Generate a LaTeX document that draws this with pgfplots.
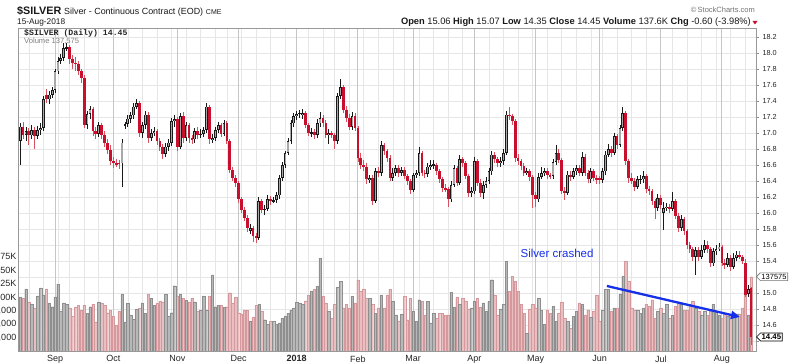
\documentclass[border=0pt]{standalone}
\usepackage{fontspec}
\setmainfont{Liberation Sans}
\newfontfamily\monofont{Liberation Mono}
\usepackage{pgfplots}
\usepackage{pgfplotstable}
\pgfplotsset{compat=1.18}
\usetikzlibrary{arrows.meta,shapes.symbols}

\definecolor{gridc}{HTML}{E6E6E6}
\definecolor{monthc}{HTML}{C6C6C6}
\definecolor{candred}{HTML}{C8102E}
\definecolor{wickred}{HTML}{D9505F}
\definecolor{candin}{HTML}{A8A8A8}
\definecolor{volpink}{HTML}{E9BFC2}
\definecolor{volpinkb}{HTML}{D4989D}
\definecolor{volgray}{HTML}{B8B8B8}
\definecolor{volgrayb}{HTML}{8E8E8E}
\definecolor{annblue}{HTML}{1530E8}

\pgfplotstableread{
d o h l c v
0 16.90 17.12 16.60 17.08 100
1 17.08 17.14 16.92 16.98 98
2 16.98 17.08 16.90 17.02 115
3 17.02 17.06 16.85 16.97 91
4 16.97 17.10 16.93 17.04 87
5 17.04 17.07 16.80 16.96 80
6 16.96 17.09 16.92 17.04 102
7 17.04 17.12 16.98 17.06 117
8 17.06 17.46 17.02 17.42 104
9 17.47 17.55 17.38 17.42 115
10 17.42 17.52 17.36 17.48 89
11 17.48 17.58 17.44 17.54 82
12 17.54 17.80 17.50 17.77 100
13 17.77 17.95 17.74 17.90 124
14 17.90 17.99 17.86 17.94 73
15 17.94 18.12 17.90 18.06 89
16 18.06 18.13 18.02 18.07 87
17 18.07 18.10 17.86 17.92 80
18 17.92 17.97 17.80 17.88 64
19 17.88 17.95 17.78 17.86 81
20 17.86 17.90 17.72 17.77 84
21 17.77 17.80 17.62 17.69 76
22 17.69 17.72 17.06 17.10 85
23 17.10 17.28 17.05 17.24 70
24 17.24 17.34 17.18 17.30 82
25 17.30 17.33 16.96 17.02 87
26 17.02 17.08 16.93 16.99 54
27 16.99 17.14 16.95 17.10 91
28 17.10 17.13 16.92 16.98 89
29 16.98 17.02 16.83 16.88 85
30 16.88 16.92 16.74 16.79 71
31 16.79 16.85 16.60 16.65 75
32 16.65 16.70 16.56 16.62 64
33 16.62 16.68 16.57 16.61 48
34 16.63 16.66 16.55 16.61 73
35 16.62 16.92 16.33 16.88 105
36 17.10 17.14 17.05 17.11 54
37 17.11 17.22 17.08 17.18 88
38 17.18 17.26 17.13 17.22 67
39 17.22 17.38 17.18 17.33 59
40 17.33 17.42 17.30 17.37 77
41 17.37 17.40 16.95 17.00 79
42 17.00 17.14 16.94 17.10 89
43 17.10 17.28 17.05 17.23 70
44 17.23 17.26 16.88 16.94 105
45 16.94 17.05 16.90 17.00 98
46 17.00 17.08 16.96 17.02 85
47 17.02 17.05 16.85 16.90 88
48 16.90 16.94 16.78 16.83 93
49 16.83 16.86 16.68 16.74 91
50 16.74 16.88 16.70 16.83 105
51 16.83 16.92 16.78 16.88 64
52 16.88 17.19 16.84 17.15 71
53 17.15 17.22 17.08 17.17 121
54 17.17 17.20 16.78 16.83 102
55 16.83 17.25 16.80 17.21 105
56 17.21 17.26 16.88 16.94 98
57 16.94 17.14 16.90 17.10 94
58 17.10 17.13 16.88 16.94 91
59 16.94 16.98 16.86 16.92 98
60 16.92 17.06 16.88 17.02 91
61 17.02 17.07 16.93 16.98 73
62 16.98 17.05 16.94 16.99 76
63 16.99 17.08 16.95 17.04 102
64 17.04 17.38 17.00 17.33 76
65 17.33 17.35 16.86 16.92 102
66 16.92 16.99 16.88 16.94 141
67 16.94 17.08 16.90 17.04 82
68 17.04 17.14 17.00 17.10 85
69 17.10 17.13 16.95 16.99 85
70 16.99 17.16 16.96 17.12 81
71 17.12 17.15 16.86 16.90 82
72 16.90 16.92 16.50 16.54 108
73 16.54 16.58 16.40 16.44 89
74 16.44 16.48 16.33 16.38 99
75 16.38 16.40 16.12 16.17 71
76 16.17 16.20 16.00 16.04 69
77 16.04 16.08 15.90 15.94 75
78 15.94 15.97 15.76 15.81 75
79 15.78 15.86 15.74 15.81 56
80 15.81 15.84 15.64 15.71 62
81 15.71 15.75 15.62 15.69 85
82 15.69 16.20 15.66 16.15 86
83 16.15 16.18 16.00 16.04 74
84 16.04 16.10 15.98 16.05 58
85 16.05 16.22 16.02 16.17 49
86 16.17 16.21 16.10 16.15 55
87 16.15 16.20 16.12 16.16 55
88 16.16 16.26 16.12 16.22 49
89 16.22 16.48 16.18 16.44 52
90 16.44 16.64 16.40 16.60 61
91 16.60 16.78 16.56 16.75 64
92 16.75 16.94 16.72 16.90 70
93 16.90 17.16 16.86 17.12 76
94 17.12 17.25 17.08 17.21 80
95 17.21 17.28 17.16 17.24 90
96 17.24 17.29 17.19 17.25 89
97 17.23 17.30 17.18 17.25 86
98 17.25 17.28 17.06 17.10 93
99 17.10 17.13 16.96 17.00 104
100 17.00 17.06 16.95 17.01 110
101 17.01 17.05 16.92 16.98 114
102 16.98 17.17 16.94 17.12 120
103 17.12 17.26 17.08 17.19 172
104 17.19 17.22 17.08 17.13 101
105 17.13 17.16 16.94 16.98 89
106 16.98 17.05 16.86 17.00 73
107 17.00 17.03 16.94 16.98 61
108 16.98 17.00 16.80 16.90 87
109 16.90 17.50 16.86 17.46 118
110 17.46 17.67 17.42 17.57 129
111 17.57 17.60 17.25 17.29 80
112 17.29 17.34 17.14 17.19 86
113 17.19 17.24 17.04 17.08 80
114 17.08 17.26 17.04 17.21 101
115 17.21 17.25 17.02 17.06 89
116 17.06 17.09 16.64 16.69 132
117 16.69 16.75 16.55 16.60 110
118 16.60 16.66 16.52 16.58 115
119 16.58 16.62 16.36 16.42 98
120 16.42 16.48 16.38 16.44 97
121 16.44 16.48 16.10 16.15 86
122 16.15 16.56 16.12 16.52 70
123 16.52 16.58 16.45 16.50 80
124 16.50 16.90 16.46 16.85 104
125 16.85 16.88 16.72 16.77 80
126 16.77 16.80 16.64 16.69 104
127 16.69 16.72 16.40 16.44 114
128 16.44 16.56 16.40 16.50 92
129 16.50 16.60 16.46 16.56 67
130 16.56 16.60 16.45 16.50 55
131 16.50 16.58 16.46 16.54 68
132 16.54 16.57 16.42 16.46 101
133 16.46 16.49 16.35 16.40 58
134 16.40 16.43 16.24 16.29 98
135 16.29 16.50 16.26 16.47 73
136 16.47 16.54 16.44 16.50 55
137 16.50 16.82 16.46 16.75 95
138 16.75 16.78 16.46 16.50 92
139 16.50 16.54 16.44 16.49 67
140 16.49 16.62 16.45 16.58 92
141 16.58 16.66 16.54 16.60 52
142 16.60 16.66 16.55 16.60 70
143 16.60 16.63 16.48 16.52 61
144 16.52 16.55 16.38 16.42 70
145 16.42 16.45 16.26 16.31 70
146 16.31 16.36 16.26 16.30 66
147 16.30 16.33 16.08 16.17 67
148 16.17 16.40 16.14 16.35 109
149 16.35 16.60 16.32 16.56 81
150 16.56 16.59 16.34 16.38 99
151 16.38 16.72 16.35 16.67 86
152 16.67 16.70 16.58 16.62 97
153 16.62 16.65 16.42 16.46 93
154 16.46 16.49 16.20 16.25 78
155 16.25 16.32 16.20 16.27 80
156 16.27 16.70 16.24 16.65 92
157 16.65 16.68 16.34 16.38 98
158 16.38 16.42 16.20 16.25 81
159 16.25 16.40 16.18 16.35 89
160 16.35 16.45 16.31 16.40 73
161 16.40 16.56 16.36 16.52 92
162 16.52 16.78 16.48 16.73 132
163 16.73 16.76 16.62 16.67 104
164 16.67 16.70 16.58 16.62 67
165 16.62 16.70 16.58 16.65 78
166 16.65 16.80 16.60 16.75 87
167 16.75 17.28 16.72 17.23 166
168 17.23 17.32 17.16 17.21 110
169 17.21 17.24 17.10 17.15 138
170 17.15 17.18 16.64 16.69 129
171 16.69 16.74 16.60 16.65 110
172 16.65 16.68 16.54 16.59 86
173 16.59 16.62 16.46 16.50 70
174 16.50 16.56 16.47 16.52 33
175 16.52 16.55 16.40 16.45 78
176 16.45 16.48 16.06 16.23 86
177 16.23 16.26 16.08 16.17 80
178 16.17 16.50 16.14 16.45 98
179 16.45 16.58 16.42 16.50 75
180 16.50 16.56 16.46 16.52 49
181 16.52 16.56 16.42 16.47 76
182 16.47 16.50 16.42 16.46 70
183 16.46 16.68 16.42 16.64 83
184 16.64 16.85 16.60 16.75 55
185 16.75 16.80 16.62 16.66 70
186 16.66 16.69 16.24 16.28 91
187 16.28 16.32 16.16 16.25 61
188 16.25 16.52 16.22 16.48 55
189 16.48 16.52 16.40 16.45 43
190 16.45 16.56 16.42 16.52 64
191 16.52 16.60 16.48 16.56 73
192 16.56 16.60 16.46 16.50 89
193 16.50 16.76 16.46 16.70 87
194 16.70 16.74 16.46 16.50 67
195 16.50 16.54 16.38 16.42 76
196 16.42 16.56 16.38 16.52 62
197 16.52 16.55 16.40 16.44 73
198 16.44 16.47 16.36 16.41 104
199 16.44 16.46 16.36 16.41 55
200 16.41 16.56 16.38 16.52 75
201 16.52 16.78 16.48 16.73 114
202 16.73 16.86 16.70 16.80 114
203 16.80 16.84 16.70 16.75 73
204 16.75 17.00 16.72 16.96 80
205 16.96 16.99 16.80 16.85 80
206 16.85 17.10 16.82 17.06 106
207 17.06 17.32 17.02 17.25 138
208 17.25 17.28 16.60 16.65 166
209 16.65 16.68 16.38 16.44 129
210 16.44 16.50 16.36 16.40 80
211 16.40 16.44 16.28 16.33 76
212 16.33 16.46 16.30 16.42 76
213 16.42 16.48 16.36 16.42 70
214 16.42 16.52 16.38 16.46 80
215 16.46 16.49 16.25 16.30 86
216 16.30 16.34 16.22 16.27 83
217 16.27 16.30 16.10 16.15 95
218 16.15 16.18 15.92 16.06 61
219 16.06 16.24 16.02 16.19 73
220 16.19 16.22 16.05 16.10 80
221 16.00 16.14 15.79 16.06 70
222 16.06 16.12 16.02 16.08 87
223 16.08 16.11 16.00 16.05 61
224 16.05 16.26 16.02 16.15 66
225 16.15 16.18 15.92 15.96 83
226 15.96 16.00 15.76 15.81 89
227 15.81 15.97 15.78 15.92 86
228 15.92 15.95 15.72 15.77 75
229 15.77 15.80 15.55 15.60 76
230 15.60 15.64 15.50 15.55 86
231 15.55 15.58 15.40 15.45 92
232 15.45 15.58 15.23 15.54 80
233 15.54 15.57 15.40 15.45 73
234 15.45 15.60 15.42 15.54 67
235 15.54 15.66 15.50 15.60 73
236 15.60 15.65 15.50 15.55 67
237 15.55 15.58 15.32 15.37 73
238 15.37 15.56 15.34 15.52 86
239 15.52 15.60 15.48 15.55 73
240 15.55 15.62 15.52 15.58 67
241 15.58 15.60 15.34 15.38 61
242 15.38 15.42 15.30 15.35 69
243 15.35 15.50 15.32 15.44 64
244 15.44 15.47 15.28 15.33 67
245 15.33 15.50 15.30 15.44 64
246 15.44 15.52 15.40 15.48 69
247 15.48 15.52 15.42 15.45 69
248 15.45 15.48 15.36 15.40 80
249 15.38 15.42 14.95 14.98 104
250 14.99 15.10 14.95 15.05 67
251 15.06 15.07 14.35 14.45 137.575
}\silver

\pgfplotsset{
  chartbase/.style={
    scale only axis, width=737.7pt, height=323pt,
    xmin=-0.618, xmax=252.71,
    at={(18.3pt,12pt)}, anchor=south west,
  },
  updays/.style={restrict expr to domain={\thisrow{c}-\thisrow{o}}{0:100}},
  downdays/.style={restrict expr to domain={\thisrow{c}-\thisrow{o}}{-100:-0.0001}},
  candle/.style 2 args={draw=none, mark=none, forget plot,
    error bars/y dir=both, error bars/y explicit, error bars/error mark=none,
    error bars/error bar style={draw=#1, line width=#2}},
}

\begin{document}
\begin{tikzpicture}[x=1pt,y=1pt]
\path[use as bounding box, clip] (0,0) rectangle (800,363);
\fill[white] (0,0) rectangle (800,363);

% grid
\begin{axis}[chartbase, ymin=14.275, ymax=18.3125,
  axis line style={draw=none},
  xtick={3,8,13,17,22,27,32,37,42,47,52,57,62,67,71,76,81,86,91,95,99,104,108,113,118,123,128,132,137,142,147,152,156,161,166,171,176,181,186,191,196,200,205,210,215,220,224,229,234,239,244,249},
  xticklabels={},
  ytick={14.4,14.6,14.8,15.0,15.2,15.4,15.6,15.8,16.0,16.2,16.4,16.6,16.8,17.0,17.2,17.4,17.6,17.8,18.0,18.2},
  yticklabels={},
  major tick length=0pt,
  xmajorgrids, ymajorgrids, major grid style={draw=gridc, line width=0.6pt},
  extra x ticks={12,32,54,75,95,116,135,156,177,199,220,241},
  extra x tick labels={},
  extra x tick style={grid=major, major grid style={draw=monthc, line width=0.9pt}},
]
\addplot[draw=none] coordinates {(0,15)};
\end{axis}

% volume
\begin{axis}[chartbase, ymin=0, ymax=598.1,
  axis line style={draw=none}, xtick=\empty,
  ytick={25,50,75,100,125,150,175},
  yticklabels={{25,000},{50,000},{75,000},100K,125K,150K,175K},
  ytick pos=left, major tick length=0pt,
  yticklabel style={font=\fontsize{9}{10}\selectfont, text=black!85, xshift=1.5pt},
]
\addplot[ybar, bar width=2.45pt, bar shift=0pt, fill=volpink, draw=volpinkb, line width=0.3pt, downdays]
  table[x=d, y=v]{\silver};
\addplot[ybar, bar width=2.45pt, bar shift=0pt, fill=volgray, draw=volgrayb, line width=0.3pt, updays]
  table[x=d, y=v]{\silver};
\coordinate (lastv) at (axis cs:252.71,137.575);
\end{axis}

% price candles
\begin{axis}[chartbase, ymin=14.275, ymax=18.3125,
  axis line style={draw=black!40, line width=0.6pt},
  ytick={14.4,14.6,14.8,15.0,15.2,15.4,15.6,15.8,16.0,16.2,16.4,16.6,16.8,17.0,17.2,17.4,17.6,17.8,18.0,18.2},
  yticklabels={,14.6,14.8,15.0,,15.4,15.6,15.8,16.0,16.2,16.4,16.6,16.8,17.0,17.2,17.4,17.6,17.8,18.0,18.2},
  ytick pos=right, yticklabel pos=right, xtick pos=bottom,
  tick align=outside, major tick length=3pt,
  tick style={draw=black!45, line width=0.5pt},
  yticklabel style={font=\fontsize{7.3}{9}\selectfont, text=black!85},
  xtick={12,32,54,75,95,116,135,156,177,199,220,241},
  xticklabels={Sep,Oct,Nov,Dec,\textbf{2018},Feb,Mar,Apr,May,Jun,Jul,Aug},
  xtick style={draw=none},
  xticklabel style={font=\fontsize{9}{10}\selectfont, text=black!85, yshift=2pt},
  minor xtick={0,1,...,251}, minor tick length=1.2pt,
  minor tick style={draw=black!35, line width=0.3pt},
]
% down candles
\addplot[candle={wickred}{0.8pt}, downdays]
  table[x=d, y expr={(\thisrow{h}+\thisrow{l})/2}, y error expr={(\thisrow{h}-\thisrow{l})/2}]{\silver};
\addplot[candle={candred}{2.7pt}, downdays]
  table[x=d, y expr={(\thisrow{o}+\thisrow{c})/2}, y error expr={max(abs(\thisrow{c}-\thisrow{o})/2,0.007)}]{\silver};
% up candles
\addplot[candle={black!90}{0.8pt}, updays]
  table[x=d, y expr={(\thisrow{h}+\thisrow{l})/2}, y error expr={(\thisrow{h}-\thisrow{l})/2}]{\silver};
\addplot[candle={black!90}{2.8pt}, updays]
  table[x=d, y expr={(\thisrow{o}+\thisrow{c})/2}, y error expr={max(abs(\thisrow{c}-\thisrow{o})/2,0.007)}]{\silver};
\addplot[candle={candin}{1.1pt}, updays]
  table[x=d, y expr={(\thisrow{o}+\thisrow{c})/2}, y error expr={max(abs(\thisrow{c}-\thisrow{o})/2-0.009,0)}]{\silver};
\coordinate (lastp) at (axis cs:252.71,14.45);
\coordinate (arrs) at (axis cs:201.5,15.0875);
\coordinate (arre) at (axis cs:247.2,14.70);
\coordinate (txt) at (axis cs:184.4,15.49);
\end{axis}

% annotation
\draw[annblue, line width=2.3pt, -{Triangle[length=9pt,width=8pt]}] (arrs) -- (arre);
\node[text=annblue, font=\fontsize{11.5}{13}\selectfont] at (txt) {Silver crashed};

% last value markers
\node[signal, signal to=west, draw=black, fill=white, line width=0.7pt, inner sep=1.2pt,
  font=\bfseries\fontsize{7.8}{9}\selectfont, anchor=west] at (lastp) {14.45};
\node[signal, signal to=west, draw=black!55, fill=white, line width=0.6pt, inner sep=1.2pt,
  font=\fontsize{7.5}{9}\selectfont, anchor=west] at (lastv) {137575};

% header
\node[anchor=base west, inner sep=0pt, text=black!90] at (17,348)
  {{\bfseries\fontsize{10.8}{12}\selectfont\$SILVER} {\fontsize{8.9}{10}\selectfont Silver - Continuous Contract (EOD)} {\fontsize{7}{8}\selectfont CME}};
\node[anchor=base west, inner sep=0pt, text=black!90, font=\fontsize{8.3}{9}\selectfont] at (17,338.5) {15-Aug-2018};
\node[anchor=base east, inner sep=0pt, text=black!55, font=\fontsize{7.5}{9}\selectfont] at (755,350) {\textcopyright\,StockCharts.com};
\node[anchor=base east, inner sep=0pt, text=black!90, font=\fontsize{9.3}{10}\selectfont] at (751,338.5)
  {\textbf{Open} 15.06 \textbf{High} 15.07 \textbf{Low} 14.35 \textbf{Close} 14.45 \textbf{Volume} 137.6K \textbf{Chg} -0.60 (-3.98\%)};
\fill[candred] (752.5,342) -- (757.5,342) -- (755,338.5) -- cycle;

% in-chart legend text
\node[anchor=base west, inner sep=0pt, text=black!85, font=\monofont\bfseries\fontsize{8.2}{9}\selectfont] at (24,327.5) {\$SILVER (Daily) 14.45};
\node[anchor=base west, inner sep=0pt, text=black!50, font=\fontsize{7.6}{9}\selectfont] at (24,319.5) {Volume 137,575};
\end{tikzpicture}
\end{document}
